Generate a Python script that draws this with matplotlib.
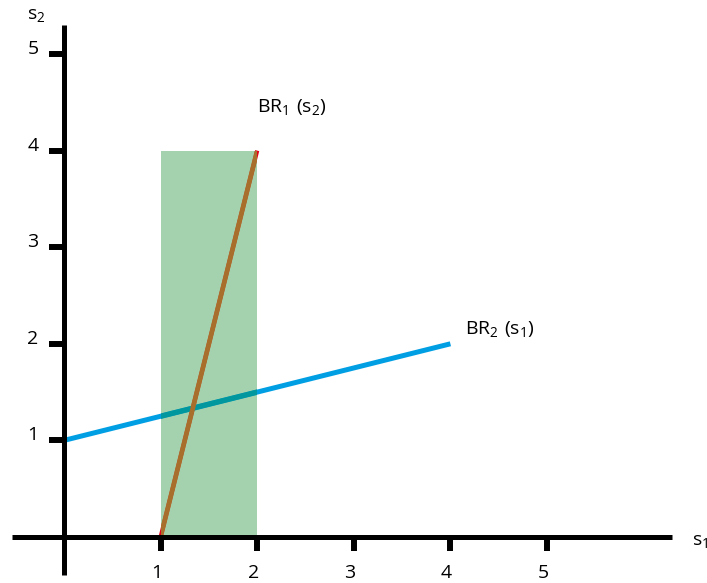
import matplotlib
matplotlib.use("Agg")
import matplotlib.pyplot as plt
from matplotlib.patches import Rectangle

plt.rcParams['font.family'] = ['Open Sans', 'DejaVu Sans']
plt.rcParams['mathtext.fontset'] = 'custom'
plt.rcParams['mathtext.rm'] = 'Open Sans'
plt.rcParams['mathtext.it'] = 'Open Sans'

# Data
ticks = [1, 2, 3, 4, 5]
tick_labels = ["1", "2", "3", "4", "5"]
br1_s1 = [1, 2]
br1_s2 = [0, 4]
br2_s1 = [0, 4]
br2_s2 = [1, 2]
region_s1 = [1, 2]
region_s2 = [0, 4]

unit = 96.6
ox, oy = 64, 537
W, H = 707, 583

fig = plt.figure(figsize=(W / 100, H / 100), dpi=100)
ax = fig.add_axes([0, 0, 1, 1])
ax.set_xlim(-ox / unit, (W - ox) / unit)
ax.set_ylim(-(H - oy) / unit, oy / unit)
ax.axis('off')

px = 1 / unit  # one pixel in data units

# Shaded region
rect = Rectangle((region_s1[0], region_s2[0]), region_s1[1] - region_s1[0],
                 region_s2[1] - region_s2[0], facecolor='#A5D2AE',
                 edgecolor='none', zorder=1)
ax.add_patch(rect)

# Lines (outside colours)
ax.plot(br1_s1, br1_s2, color='#E2001A', lw=3.0, solid_capstyle='butt', zorder=2)
ax.plot(br2_s1, br2_s2, color='#009FE3', lw=3.6, solid_capstyle='butt', zorder=2)
# Lines inside the shaded region (blended colours)
l2, = ax.plot(br2_s1, br2_s2, color='#00979F', lw=3.9, solid_capstyle='butt', zorder=2.5)
l2.set_clip_path(rect)
l1, = ax.plot(br1_s1, br1_s2, color='#A86F2C', lw=3.4, solid_capstyle='butt', zorder=3)
l1.set_clip_path(rect)

# Axes
ax.plot([-52 * px, 608 * px], [0, 0], color='black', lw=3.6, solid_capstyle='butt', zorder=4)
ax.plot([0, 0], [-38 * px, 512 * px], color='black', lw=3.6, solid_capstyle='butt', zorder=4)

# Ticks
for t, lab in zip(ticks, tick_labels):
    ax.plot([t, t], [0, -14 * px], color='black', lw=4.3, solid_capstyle='butt', zorder=4)
    ax.text(t - 4 * px, -36 * px, lab, fontsize=14, ha='center', va='center')
    ax.plot([-15 * px, 0], [t, t], color='black', lw=4.3, solid_capstyle='butt', zorder=4)
    ax.text(-31 * px, t + 5 * px, lab, fontsize=14, ha='center', va='center')

# Axis labels
ax.text(628 * px, -4 * px, r'$\mathrm{s_1}$', fontsize=14, ha='left', va='center')
ax.text(-28 * px, 522 * px, r'$\mathrm{s_2}$', fontsize=14, ha='center', va='center')

# Curve labels
ax.text(2.0, 4.45, r'$\mathrm{BR_1\ (s_2)}$', fontsize=14, ha='left', va='center')
ax.text(4.15, 2.15, r'$\mathrm{BR_2\ (s_1)}$', fontsize=14, ha='left', va='center')

fig.savefig('out.png', dpi=100)
